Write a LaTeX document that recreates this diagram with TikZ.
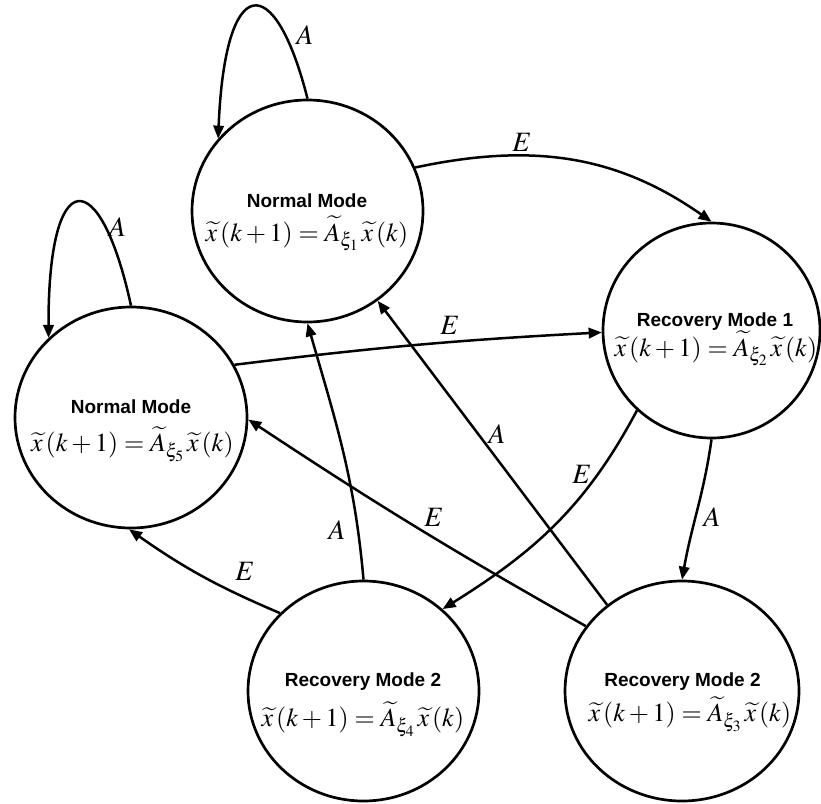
\documentclass[tikz,border=0pt]{standalone}
\usepackage{fontspec}
\usepackage{mathptmx}
\usetikzlibrary{arrows.meta,shapes.geometric}
\newfontfamily\titlefont{Liberation Sans}
\newcommand{\stateeq}[1]{$\widetilde{x}\,(k+1)=\widetilde{A}_{\xi_{#1}}\,\widetilde{x}\,(k)$}
\tikzset{
  state/.style={draw, ellipse, line width=2.7pt, inner sep=0pt},
  title/.style={font=\titlefont\bfseries\fontsize{19}{22}\selectfont, inner sep=0pt, anchor=base},
  formula/.style={font=\fontsize{26}{30}\selectfont, inner sep=0pt, anchor=base},
  lbl/.style={font=\fontsize{28}{30}\selectfont, inner sep=0pt},
  edge/.style={line width=2.5pt, -{Triangle[length=13pt,width=10.5pt]}},
}
\begin{document}
\begin{tikzpicture}[x=1pt,y=-1pt]
\useasboundingbox (0,0) rectangle (821,803);
% states
\node[state, minimum width=231pt, minimum height=222pt] (n1) at (307.5,211) {};
\node[state, minimum width=232pt, minimum height=221pt] (n5) at (131,417.5) {};
\node[state, minimum width=217pt, minimum height=215pt] (n2) at (711.5,330.5) {};
\node[state, minimum width=231pt, minimum height=220pt] (n4) at (363.5,691) {};
\node[state, minimum width=234pt, minimum height=220pt] (n3) at (682,691) {};
% texts
\node[title] (t1) at (307,207) {Normal Mode};
\node[formula] (f1) at (307,241) {\stateeq{1}};
\node[title] (t5) at (131,413) {Normal Mode};
\node[formula] (f5) at (132.5,451.5) {\stateeq{5}};
\node[title] (t2) at (715,326.5) {Recovery Mode 1};
\node[formula] (f2) at (716,356) {\stateeq{2}};
\node[title] (t4) at (363,686.5) {Recovery Mode 2};
\node[formula] (f4) at (363,726.5) {\stateeq{4}};
\node[title] (t3) at (682.5,686.5) {Recovery Mode 2};
\node[formula] (f3) at (690,721.5) {\stateeq{3}};
% self loops
\draw[edge] (n1.90) .. controls (275,-30) and (225,-30) .. (n1.141);
\draw[edge] (n5.90) .. controls (100,163) and (48,163) .. (n5.136);
% transitions
\draw[edge] (n1.22.7) to[out=12,in=145] (n2.90);
\draw[edge] (n5.27.7) to[bend left=2] (n2.181);
\draw[edge] (n2.227.6) to[out=242,in=32] (n4.46.2);
\draw[edge] (n2.270) to[out=262,in=80] (n3.90);
\draw[edge] (n4.90) to[out=95,in=286] (n1.270);
\draw[edge] (n3.131.1) -- (n1.308.4);
\draw[edge] (n3.146.4) to[bend left=2] (n5.359);
\draw[edge] (n4.137.6) to[bend left=6] (n5.269);
% labels
\node[lbl] (la1) at (305,35) {$A$};
\node[lbl] (la5) at (117.5,227) {$A$};
\node[lbl] (le12) at (522,142) {$E$};
\node[lbl] (le52) at (450,325) {$E$};
\node[lbl] (le24) at (582,474) {$E$};
\node[lbl] (la23) at (712,517) {$A$};
\node[lbl] (la31) at (497,434) {$A$};
\node[lbl] (le35) at (434,517) {$E$};
\node[lbl] (la41) at (337,530) {$A$};
\node[lbl] (le45) at (245,571) {$E$};
\end{tikzpicture}
\end{document}
